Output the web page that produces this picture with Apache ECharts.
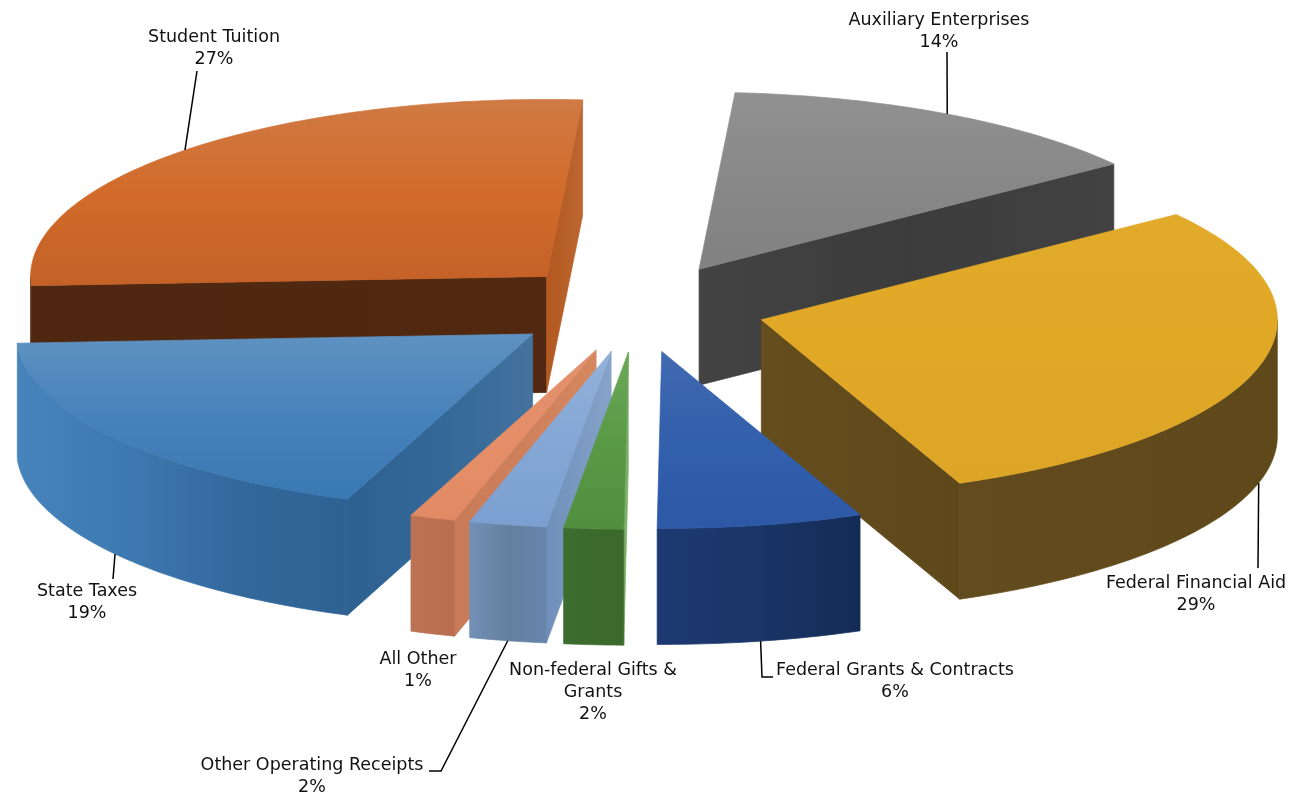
<!DOCTYPE html>
<html>
<head>
<meta charset="utf-8">
<style>html,body{margin:0;padding:0;background:#fff}#main{width:1303px;height:796px}</style>
<script src="https://cdn.jsdelivr.net/npm/echarts@6/dist/echarts.min.js"></script>
</head>
<body>
<div id="main"></div>
<script>
// ---- data ----
const categories = ['Auxiliary Enterprises','Federal Financial Aid','Federal Grants & Contracts','Non-federal Gifts &\nGrants','Other Operating Receipts','All Other','State Taxes','Student Tuition'];
const sliceValues = [13.75,28.86,6.42,1.86,2.42,1.42,18.33,26.94];
const percentLabels = ['14%','29%','6%','2%','2%','1%','19%','27%'];

// ---- projection of the pie (style, not data) ----
const pie = {cx:637, cy:308, rx:516, ry:177, depth:116, explode:0.25, firstAngle:4};

// ---- colours ----
const v = (...c)=>({type:'linear',x:0,y:0,x2:0,y2:1,colorStops:c.map((k,i)=>({offset:i/(c.length-1),color:k}))});
const h = (...c)=>({type:'linear',x:0,y:0,x2:1,y2:0,colorStops:c.map((k,i)=>({offset:i/(c.length-1),color:k}))});
const topFill = [
  v('#919191','#888888','#818181'),
  v('#e2aa2a','#e0a825','#dda526'),
  v('#4069b0','#3360ac','#2c58a6'),
  v('#6aa958','#599a47','#4f8f3e'),
  v('#93b2da','#84a7d5','#7b9fd0'),
  v('#e2906c','#e58e68','#e28a63'),
  v('#5f92c2','#4682ba','#3a78b3'),
  v('#cf7a45','#d26b2a','#c46127')
];
const wallFill = [
  h('#404040','#3c3c3c'),
  h('#624b1c','#5f491b'),
  h('#1d3a71','#1a3566','#142b57'),
  h('#3c6c2e','#3b692c'),
  h('#7291b6','#64809f','#6685ab'),
  h('#bd7353','#b96f4f'),
  h('#4884bc','#3d79b1','#33689c','#2f6293'),
  h('#5a2c12','#4f2710')
];
// face along the first cut of a slice (clockwise) and face along the last cut
const startFaceFill = [
  '#424242',
  '#5f491b',
  '#1d3a71',
  '#7cb06a',
  h('#6f8fba','#86a3c9'),
  h('#c97a58','#d5875f'),
  h('#2e6191','#336898','#44729e'),
  h('#4f2710','#522810')
];
const endFaceFill = [
  h('#434343','#3c3c3c','#424242'),
  h('#654d1d','#5e481a'),
  '#1d3a71',
  '#7cb06a',
  h('#6f8fba','#86a3c9'),
  h('#c97a58','#d5875f'),
  h('#2e6191','#336898','#44729e'),
  h('#b25820','#bd6630')
];

// ---- label placement ----
const labelAt = [
  {x:939, y:9,   leader:[[947,52]]},
  {x:1196,y:572, leader:[[1258,568]]},
  {x:895, y:659, leader:[[762,677],[773,677]]},
  {x:593, y:659, leader:null},
  {x:312, y:754, leader:[[441,771],[429,771]]},
  {x:418, y:648, leader:null},
  {x:87,  y:580, leader:[[113,579]]},
  {x:214, y:26,  leader:[[197,71]]}
];

const total = sliceValues.reduce((a,b)=>a+b,0);
const rad = d=>d*Math.PI/180;
const starts = [];
sliceValues.reduce((acc,val,i)=>{starts[i]=acc;return acc+val/total*360;},pie.firstAngle);

function renderSlice(params, api){
  const i = api.value(0), val = api.value(1);
  const a0 = starts[i], a1 = a0 + val/total*360, mid=(a0+a1)/2;
  const ground = t=>[Math.sin(rad(t))*pie.rx, -Math.cos(rad(t))*pie.ry];
  const off = ground(mid);
  const ax = pie.cx + off[0]*pie.explode, ay = pie.cy + off[1]*pie.explode;
  const rim = t=>{const g=ground(t);return [ax+g[0],ay+g[1]];};
  const down = p=>[p[0],p[1]+pie.depth];
  const order = Math.round((-Math.cos(rad(mid))+1)*100)*10;
  const kids = [];
  const poly = (pts,fill,z)=>kids.push({type:'polygon',z2:order+z,shape:{points:pts},style:{fill:fill,stroke:fill,lineWidth:0.7},silent:true});

  const apex=[ax,ay], pS=rim(a0), pE=rim(a1);
  // the two cut faces, when they look towards the viewer
  if(Math.sin(rad(a0))<0) poly([apex,pS,down(pS),down(apex)],startFaceFill[i],1);
  if(Math.sin(rad(a1))>0) poly([apex,pE,down(pE),down(apex)],endFaceFill[i],1);
  // outer wall: only its front half
  const w0=Math.max(a0,90), w1=Math.min(a1,270);
  if(w1>w0){
    const upper=[],lower=[];
    for(let t=w0;t<w1;t+=1){upper.push(rim(t));}
    upper.push(rim(w1));
    upper.forEach(p=>lower.unshift(down(p)));
    poly(upper.concat(lower),wallFill[i],2);
  }
  // top surface
  const topPts=[apex];
  for(let t=a0;t<a1;t+=1){topPts.push(rim(t));}
  topPts.push(pE);
  poly(topPts,topFill[i],3);

  // label and leader
  const place = labelAt[i];
  if(place.leader){
    const front = mid>90 && mid<270;
    const start = front ? down(rim(mid)) : rim(mid);
    kids.push({type:'polyline',z2:5000,silent:true,shape:{points:[start].concat(place.leader)},style:{fill:null,stroke:'#000',lineWidth:1.5}});
  }
  kids.push({type:'text',z2:5001,silent:true,style:{
    text:categories[i]+'\n'+percentLabels[i],x:place.x,y:place.y,align:'center',verticalAlign:'top',
    fill:'#111',font:'17.5px "DejaVu Sans"',lineHeight:22
  }});
  return {type:'group',children:kids};
}

const chart = echarts.init(document.getElementById('main'),null,{renderer:'canvas'});
chart.setOption({
  backgroundColor:'#fff',
  animation:false,
  tooltip:{show:false},
  series:[{
    type:'custom',
    coordinateSystem:'none',
    silent:true,
    renderItem:renderSlice,
    encode:{itemName:2},
    data:sliceValues.map((val,i)=>[i,val,categories[i]])
  }]
});
</script>
</body>
</html>
